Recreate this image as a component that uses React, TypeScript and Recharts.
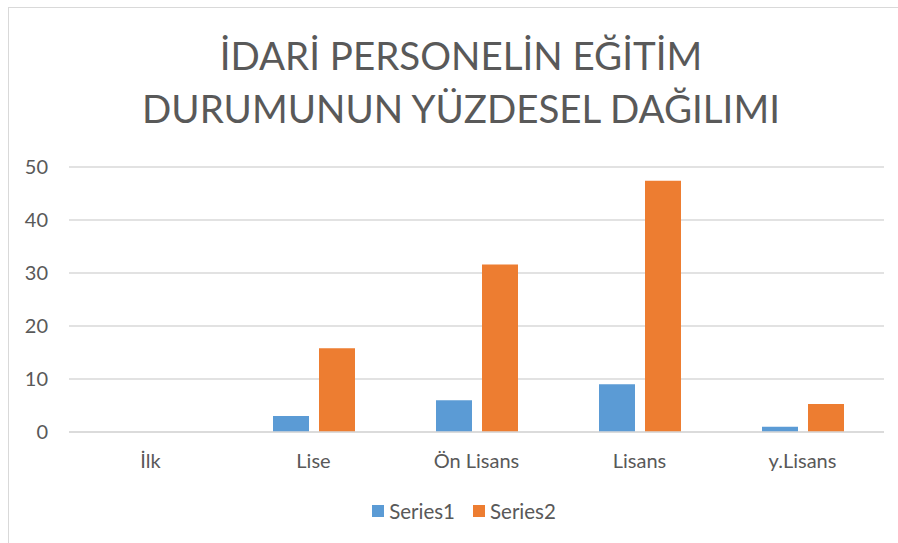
import { BarChart, Bar, XAxis, YAxis, CartesianGrid } from 'recharts';

// education levels and their shares
const categories = ['İlk', 'Lise', 'Ön Lisans', 'Lisans', 'y.Lisans'];
const series1 = [0, 3, 6, 9, 1];
const series2 = [0, 15.8, 31.6, 47.4, 5.3];
const yTicks = [0, 10, 20, 30, 40, 50];

const titleLines = ['İDARİ PERSONELİN EĞİTİM', 'DURUMUNUN YÜZDESEL DAĞILIMI'];

const data = categories.map((name, i) => ({ name, Series1: series1[i], Series2: series2[i] }));

const FONT = 'Lato, "Open Sans", sans-serif';
const TEXT = '#595959';
const BLUE = '#5B9BD5';
const ORANGE = '#ED7D31';

const App = () => {
  return (
    <div style={{ position: 'absolute', left: 0, top: 0, width: 898, height: 543, overflow: 'hidden', background: '#fff', fontFamily: FONT }}>
      {/* chart frame, clipped on the right and bottom like the screenshot */}
      <div style={{ position: 'absolute', left: 8, top: 7, width: 910, height: 560, border: '1px solid #d9d9d9' }} />

      <div style={{ position: 'absolute', left: 0, top: 29, width: 922, textAlign: 'center', color: TEXT, fontSize: 38.5, lineHeight: '53px' }}>
        {titleLines.map((l) => (
          <div key={l}>{l}</div>
        ))}
      </div>

      <div style={{ position: 'absolute', left: 0, top: 0 }}>
        <BarChart width={898} height={543} data={data} margin={{ top: 167, right: 14, bottom: 81, left: 0 }} barGap={10} barSize={36}>
          <CartesianGrid vertical={false} stroke="#d9d9d9" strokeWidth={1.3} />
          <XAxis
            dataKey="name"
            height={30}
            tickLine={false}
            tickSize={0}
            tickMargin={22}
            axisLine={{ stroke: '#d9d9d9', strokeWidth: 1.3 }}
            tick={{ fill: TEXT, fontSize: 20, fontFamily: FONT }}
          />
          <YAxis
            width={69}
            domain={[0, 50]}
            ticks={yTicks}
            tickLine={false}
            tickSize={0}
            tickMargin={21}
            axisLine={false}
            tick={{ fill: TEXT, fontSize: 20, fontFamily: FONT }}
          />
          <Bar dataKey="Series1" fill={BLUE} isAnimationActive={false} />
          <Bar dataKey="Series2" fill={ORANGE} isAnimationActive={false} />
        </BarChart>
      </div>

      {/* legend */}
      <div style={{ position: 'absolute', left: 0, top: 499, width: 928, display: 'flex', justifyContent: 'center', gap: 18, color: TEXT, fontSize: 20.5 }}>
        {[['Series1', BLUE], ['Series2', ORANGE]].map(([name, color]) => (
          <div key={name} style={{ display: 'flex', alignItems: 'center', gap: 5 }}>
            <span style={{ display: 'inline-block', width: 12, height: 12, background: color }} />
            <span>{name}</span>
          </div>
        ))}
      </div>
    </div>
  );
};

export default App;
